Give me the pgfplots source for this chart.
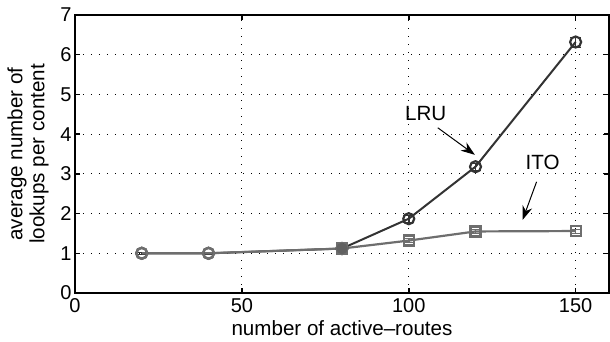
\documentclass[border=0pt]{standalone}
\usepackage{pgfplots}
\pgfplotsset{compat=1.18}
\usetikzlibrary{arrows.meta}
\usepackage{fontspec}
\setmainfont{Liberation Sans}
\begin{document}
\begin{tikzpicture}
\begin{axis}[
  scale only axis,
  width=534pt, height=278pt,
  xmin=0, xmax=160, ymin=0, ymax=7,
  xtick={0,50,100,150}, ytick={0,1,2,3,4,5,6,7},
  tick align=inside, major tick length=5pt,
  tick style={black, line width=1.5pt},
  axis line style={line width=2.5pt},
  grid=major,
  major grid style={black, line width=1.2pt, dash pattern=on 1.2pt off 6.8pt},
  /pgf/number format/assume math mode=true,
  tick label style={font=\fontsize{20}{22}\selectfont},
  label style={font=\fontsize{20.6}{22}\selectfont},
  xlabel={number of active\textendash routes},
  ylabel={\begin{tabular}{@{}c@{}}average number of\\lookups per content\end{tabular}},
  xlabel style={at={(axis description cs:0.5,0)}, anchor=base, yshift=-42pt},
  ylabel style={at={(axis description cs:-0.086,0.5)}, anchor=center},
  xticklabel style={yshift=-2pt},
  clip=false,
]
\coordinate (sw) at (rel axis cs:0,0);
\coordinate (ne) at (rel axis cs:1,1);
\addplot+[color=black!80, line width=2pt, mark=o, mark size=5.5pt,
  mark options={line width=2.2pt, solid},
  error bars/.cd, y dir=both, y explicit, error bar style={line width=1.5pt}]
  coordinates {(20,1) +- (0,0.03) (40,1) +- (0,0.03) (80,1.12) +- (0,0.05) (100,1.87) +- (0,0.08) (120,3.18) +- (0,0.1) (150,6.32) +- (0,0.12)};
\addplot+[color=black!57, line width=2.2pt, mark=square, mark size=5pt,
  mark options={line width=2.2pt, solid},
  error bars/.cd, y dir=both, y explicit, error bar style={line width=1.5pt}]
  coordinates {(80,1.12) +- (0,0.03) (100,1.32) +- (0,0.05) (120,1.55) +- (0,0.05) (150,1.56) +- (0,0.05)};
\addplot+[color=black!57, line width=2.2pt, mark=o, mark size=5.5pt,
  mark options={line width=2.4pt, solid}]
  coordinates {(20,1) (40,1) (80,1.12)};
\addplot[only marks, mark=*, mark size=5.5pt, color=black!62] coordinates {(80,1.12)};
\node[font=\fontsize{20.6}{22}\selectfont] at (axis cs:105.1,4.51) {LRU};
\draw[-{Stealth[length=14pt,width=10pt]}, line width=1pt] (axis cs:108.7,4.16) -- (axis cs:119.8,3.48);
\node[font=\fontsize{20.6}{22}\selectfont] at (axis cs:140.1,3.30) {ITO};
\draw[-{Stealth[length=14pt,width=10pt]}, line width=1pt] (axis cs:138.3,2.8) -- (axis cs:134.1,1.84);
\end{axis}
\pgfresetboundingbox
\path ([shift={(-75pt,-49pt)}]sw) rectangle ([shift={(1pt,15pt)}]ne);
\end{tikzpicture}
\end{document}
